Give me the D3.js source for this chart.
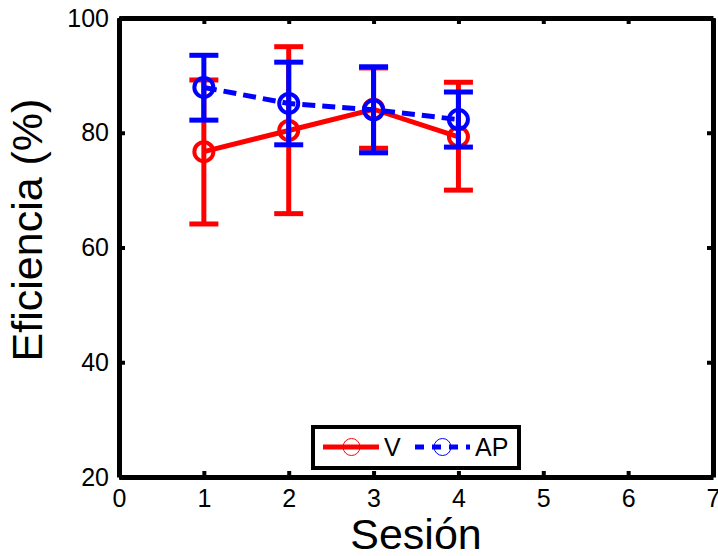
<!DOCTYPE html>
<html>
<head>
<meta charset="utf-8">
<script src="https://d3js.org/d3.v7.min.js"></script>
<style>
  body { margin: 0; background: #fff; }
  text { font-family: "Liberation Sans", Arial, sans-serif; }
</style>
</head>
<body>
<div id="chart"></div>
<script>
// sessions
var sesiones = [1, 2, 3, 4];
// V series: mean, upper and lower error bounds
var vMean  = [76.7, 80.4, 84.1, 79.3];
var vUpper = [89.2, 95.0, 91.3, 88.8];
var vLower = [64.1, 65.9, 77.3, 70.0];
// AP series
var apMean  = [87.9, 85.1, 84.0, 82.3];
var apUpper = [93.5, 92.3, 91.5, 87.1];
var apLower = [82.2, 77.9, 76.5, 77.5];
var xTicks = [0, 1, 2, 3, 4, 5, 6, 7];
var yTicks = [20, 40, 60, 80, 100];

var W = 718, H = 556;
var mLeft = 119, mRight = 713, mTop = 18, mBottom = 477;

var svg = d3.select("#chart").append("svg")
  .attr("width", W).attr("height", H);

var x = d3.scaleLinear().domain([0, 7]).range([mLeft, mRight]);
var y = d3.scaleLinear().domain([20, 100]).range([mBottom, mTop]);

// axes (box with inward ticks)
var tickLen = 6;
var fmt = d3.format("d");
var xAxB = d3.axisBottom(x).tickValues(xTicks).tickFormat(fmt).tickSizeInner(-tickLen).tickSizeOuter(0).tickPadding(12);
var xAxT = d3.axisTop(x).tickValues(xTicks).tickSizeInner(-tickLen).tickSizeOuter(0).tickFormat("");
var yAxL = d3.axisLeft(y).tickValues(yTicks).tickFormat(fmt).tickSizeInner(-tickLen).tickSizeOuter(0).tickPadding(10);
var yAxR = d3.axisRight(y).tickValues(yTicks).tickSizeInner(-tickLen).tickSizeOuter(0).tickFormat("");

function style(g) {
  g.select(".domain").attr("stroke", "#000").attr("stroke-width", 5);
  g.selectAll(".tick line").attr("stroke", "#000").attr("stroke-width", 4);
  g.selectAll(".tick text").attr("fill", "#000")
    .style("font-family", "'Liberation Sans', Arial, sans-serif").style("font-size", "25px");
}
svg.append("g").attr("transform", "translate(0," + mBottom + ")").call(xAxB).call(style);
svg.append("g").attr("transform", "translate(0," + mTop + ")").call(xAxT).call(style);
svg.append("g").attr("transform", "translate(" + mLeft + ",0)").call(yAxL).call(style);
svg.append("g").attr("transform", "translate(" + mRight + ",0)").call(yAxR).call(style);

// axis titles
svg.append("text").attr("x", (mLeft + mRight) / 2).attr("y", 549)
  .attr("text-anchor", "middle").style("font-size", "43px").text("Sesión");
svg.append("text").attr("transform", "translate(42,230) rotate(-90)")
  .attr("text-anchor", "middle").style("font-size", "43px").text("Eficiencia (%)");

function series(mean, upper, lower, color, dash) {
  var g = svg.append("g");
  var capW = 14.5;
  sesiones.forEach(function (s, i) {
    g.append("line").attr("x1", x(s)).attr("x2", x(s))
      .attr("y1", y(upper[i])).attr("y2", y(lower[i]))
      .attr("stroke", color).attr("stroke-width", 5);
    [upper[i], lower[i]].forEach(function (v) {
      g.append("line").attr("x1", x(s) - capW).attr("x2", x(s) + capW)
        .attr("y1", y(v)).attr("y2", y(v))
        .attr("stroke", color).attr("stroke-width", 5);
    });
  });
  var line = d3.line().x(function (d, i) { return x(sesiones[i]); }).y(function (d) { return y(d); });
  g.append("path").datum(mean).attr("d", line).attr("fill", "none")
    .attr("stroke", color).attr("stroke-width", 5)
    .attr("stroke-dasharray", dash ? "13,7" : null);
  g.selectAll("circle").data(mean).enter().append("circle")
    .attr("cx", function (d, i) { return x(sesiones[i]); })
    .attr("cy", function (d) { return y(d); })
    .attr("r", 9.5).attr("fill", "none")
    .attr("stroke", color).attr("stroke-width", 4);
}
series(vMean, vUpper, vLower, "#ff0000", false);
series(apMean, apUpper, apLower, "#0000ff", true);

// legend
var lg = svg.append("g");
lg.append("rect").attr("x", 313).attr("y", 427).attr("width", 206).attr("height", 41)
  .attr("fill", "#fff").attr("stroke", "#000").attr("stroke-width", 4);
var ly = 447;
lg.append("line").attr("x1", 323).attr("x2", 379).attr("y1", ly).attr("y2", ly)
  .attr("stroke", "#ff0000").attr("stroke-width", 5);
lg.append("circle").attr("cx", 351.5).attr("cy", ly).attr("r", 8.5)
  .attr("fill", "none").attr("stroke", "#ff0000").attr("stroke-width", 1);
lg.append("text").attr("x", 384).attr("y", ly + 9).style("font-size", "25px").text("V");
lg.append("line").attr("x1", 415).attr("x2", 470).attr("y1", ly).attr("y2", ly)
  .attr("stroke", "#0000ff").attr("stroke-width", 5).attr("stroke-dasharray", "9,8");
lg.append("circle").attr("cx", 442.5).attr("cy", ly).attr("r", 8.5)
  .attr("fill", "none").attr("stroke", "#0000ff").attr("stroke-width", 1);
lg.append("text").attr("x", 475).attr("y", ly + 9).style("font-size", "25px").text("AP");
</script>
</body>
</html>
